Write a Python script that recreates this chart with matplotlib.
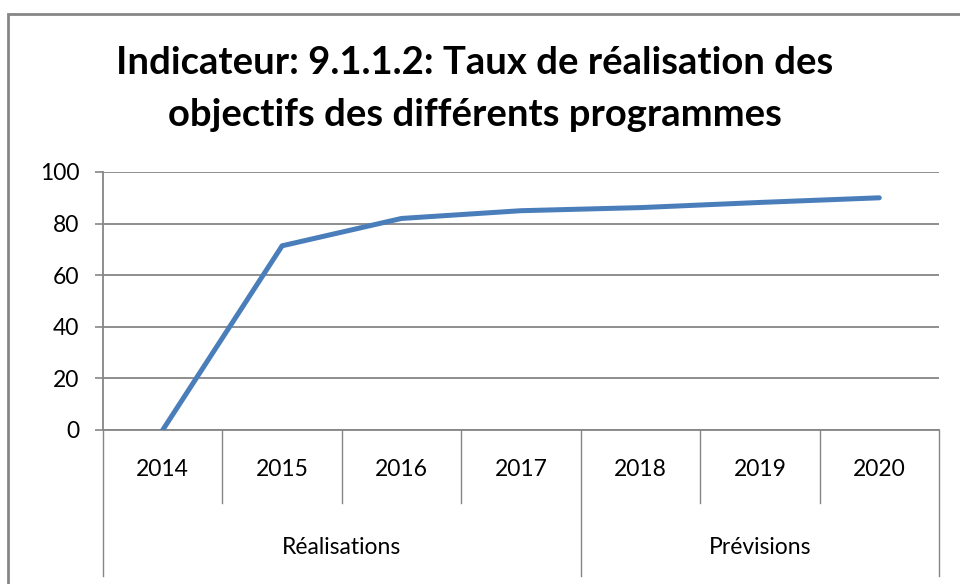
import matplotlib.pyplot as plt
from matplotlib.patches import Rectangle
import matplotlib.transforms as mtransforms

plt.rcParams['font.family'] = ['Lato', 'DejaVu Sans']

years = ['2014', '2015', '2016', '2017', '2018', '2019', '2020']
taux = [0, 71.4, 82, 85, 86.2, 88.2, 90]
groups = ['Réalisations', 'Prévisions']
group_sizes = [4, 3]

grey = '#868686'
blue = '#4a7ebb'

fig = plt.figure(figsize=(9.6, 5.84), dpi=100)
ax = fig.add_axes([103 / 960, 1 - 430 / 584, (939 - 103) / 960, (430 - 172) / 584])

x = list(range(len(years)))
ax.plot(x, taux, color=blue, linewidth=3.6, solid_capstyle='round', zorder=3)

ax.set_xlim(-0.5, len(years) - 0.5)
ax.set_ylim(0, 100)
ax.set_yticks(range(0, 101, 20))
ax.tick_params(axis='y', labelsize=16.5, length=6, width=1.2, color=grey, pad=11)
ax.set_xticks([])
ax.grid(axis='y', color=grey, linewidth=1.3)
ax.set_axisbelow(True)
for side in ['top', 'right']:
    ax.spines[side].set_visible(False)
for side in ['left', 'bottom']:
    ax.spines[side].set_color(grey)
    ax.spines[side].set_linewidth(1.3)

# two-level category axis drawn below the plot
trans = mtransforms.blended_transform_factory(ax.transData, ax.transAxes)
h = 430 - 172
lvl1 = -(503 - 430) / h
lvl2 = -(576 - 430) / h
for i, yr in enumerate(years):
    ax.text(i, -(470 - 430) / h, yr, transform=trans, ha='center', va='center', fontsize=16.5)
bounds = [-0.5]
for n in group_sizes:
    bounds.append(bounds[-1] + n)
for b in range(len(years) + 1):
    xb = b - 0.5
    bottom = lvl2 if xb in bounds else lvl1
    ax.plot([xb, xb], [0, bottom], transform=trans, color=grey, linewidth=1.0, clip_on=False)
for g, name in enumerate(groups):
    ax.text((bounds[g] + bounds[g + 1]) / 2, -(547 - 430) / h, name, transform=trans,
            ha='center', va='center', fontsize=16.5)

fig.text(475 / 960, 1 - 63 / 584, 'Indicateur: 9.1.1.2: Taux de réalisation des',
         ha='center', va='center', fontsize=27.5, fontweight='bold')
fig.text(475 / 960, 1 - 115 / 584, 'objectifs des différents programmes',
         ha='center', va='center', fontsize=27.5, fontweight='bold')

fig.patches.append(Rectangle((8 / 960, -0.1), 1.2, 1 - 14 / 584 + 0.1, transform=fig.transFigure,
                             fill=False, edgecolor=grey, linewidth=2))

fig.savefig('out.png', dpi=100)
